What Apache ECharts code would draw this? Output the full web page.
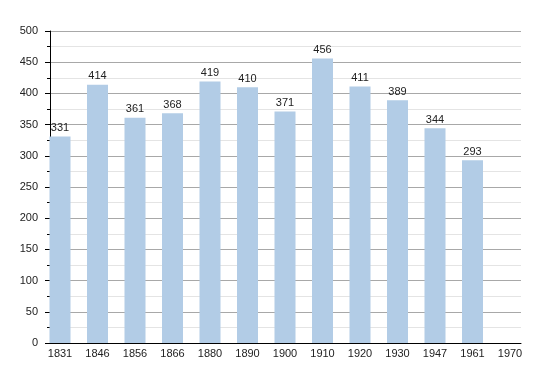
<!DOCTYPE html>
<html><head><meta charset="utf-8">
<script src="https://cdn.jsdelivr.net/npm/echarts@6/dist/echarts.min.js"></script>
<style>html,body{margin:0;padding:0;background:#fff}#c{width:550px;height:373px}</style>
</head><body><div id="c"></div>
<script>
var years = ['1831','1846','1856','1866','1880','1890','1900','1910','1920','1930','1947','1961','1970'];
var population = [331,414,361,368,419,410,371,456,411,389,344,293,null];
var yTicks = [0,50,100,150,200,250,300,350,400,450,500];

var chart = echarts.init(document.getElementById('c'));
var font = 'Liberation Sans, Arial, sans-serif';
chart.setOption({
  animation:false,
  grid:[
    {left:50,right:29,top:31,bottom:30},
    {left:60,right:40,top:31,bottom:30}
  ],
  xAxis:[
    {gridIndex:0,type:'value',min:0,max:1,show:true,axisLine:{show:true,onZero:false,lineStyle:{color:'#000',width:1}},axisTick:{show:false},axisLabel:{show:false},splitLine:{show:false}},
    {gridIndex:1,type:'category',data:years,boundaryGap:false,axisLine:{show:false},axisTick:{show:false},
     axisLabel:{margin:5,color:'#222',fontSize:11,fontFamily:font,interval:0},splitLine:{show:false}}
  ],
  yAxis:[
    {gridIndex:0,type:'value',min:yTicks[0],max:yTicks[yTicks.length-1],interval:50,
     axisLine:{show:true,lineStyle:{color:'#000',width:1}},
     axisTick:{show:true,length:5,lineStyle:{color:'#000'}},
     minorTick:{show:true,splitNumber:2,length:3,lineStyle:{color:'#000'}},
     axisLabel:{margin:12,color:'#222',fontSize:11,fontFamily:font},
     splitLine:{show:true,lineStyle:{color:'#a8a8a8',width:1}},
     minorSplitLine:{show:true,lineStyle:{color:'#e4e4e4',width:1}}},
    {gridIndex:1,type:'value',min:0,max:500,show:false,splitLine:{show:false}}
  ],
  series:[{
    type:'bar',xAxisIndex:1,yAxisIndex:1,data:population,barWidth:21,
    itemStyle:{color:'#b2cce6'},
    label:{show:true,position:'top',distance:3,color:'#222',fontSize:11,fontFamily:font}
  }]
});
</script></body></html>
